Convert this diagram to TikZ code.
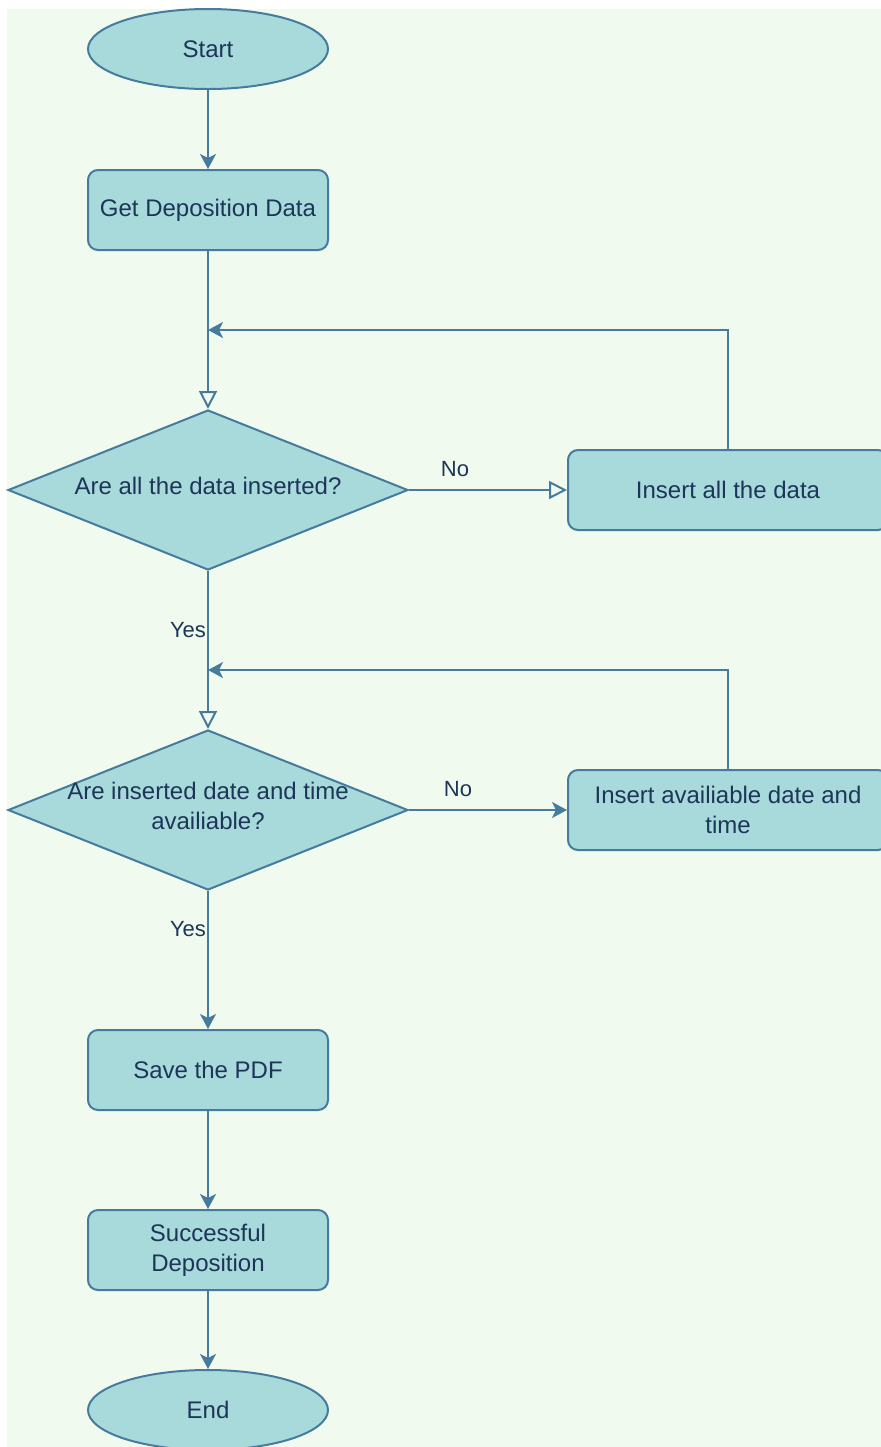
\documentclass[tikz,border=0pt]{standalone}
\usepackage{fontspec}
\setmainfont{Liberation Sans}
\usetikzlibrary{shapes.geometric,arrows.meta}
\definecolor{bgc}{HTML}{F1FAEE}
\definecolor{fillc}{HTML}{A8DADC}
\definecolor{strokec}{HTML}{457B9D}
\definecolor{textc}{HTML}{1D3557}
\begin{document}
\begin{tikzpicture}[x=0.5pt,y=-0.5pt,
  base/.style={draw=strokec, fill=fillc, line width=1pt, text=textc,
    font=\fontsize{12}{15}\selectfont, inner sep=0pt, align=center},
  term/.style={base, ellipse, minimum width=120pt, minimum height=40pt},
  proc/.style={base, rectangle, rounded corners=5pt, minimum width=120pt, minimum height=40pt},
  wideproc/.style={proc, minimum width=160pt},
  dec/.style={base, diamond, minimum width=200pt, minimum height=80pt, aspect=2.5},
  dectext/.style={text=textc, font=\fontsize{12}{15}\selectfont, align=center, inner sep=0pt},
  lbl/.style={text=textc, font=\fontsize{11}{13}\selectfont, inner sep=0pt},
  conn/.style={draw=strokec, line width=1pt},
  arr/.style={conn, -{Stealth[length=7.5pt, width=8pt, inset=2pt]}},
  arro/.style={conn, -{Triangle[open, length=9pt, width=9pt, fill=bgc]}}
]
\useasboundingbox (0,0) rectangle (881,1447);
\fill[bgc] (7,9) rectangle (881,1447);

\node[term] (start) at (208,49) {Start};
\node[proc] (get) at (208,210) {Get Deposition Data};
\node[dec] (d1) at (208,490) {};
\node[dectext] (t1) at (208,486) {Are all the data inserted?};
\node[wideproc] (ins1) at (728,490) {Insert all the data};
\node[dec] (d2) at (208,810) {};
\node[dectext] (t2) at (208,806) {Are inserted date and time\\availiable?};
\node[wideproc] (ins2) at (728,810) {Insert availiable date and\\time};
\node[proc] (save) at (208,1070) {Save the PDF};
\node[proc] (succ) at (208,1250) {Successful\\Deposition};
\node[term] (end) at (208,1410) {End};

\coordinate (j1) at (208,330);
\coordinate (j2) at (208,670);

\draw[arr] (start) -- (get);
\draw[arro] (get) -- (d1);
\draw[arro] (d1) -- (ins1);
\node[lbl] (no1) at (455,469) {No};
\draw[arr] (ins1.north) |- (j1);
\draw[arro] (d1) -- (d2);
\node[lbl] (yes1) at (188,630) {Yes};
\draw[arr] (ins2.north) |- (j2);
\draw[arr] (d2) -- (ins2);
\node[lbl] (no2) at (458,789) {No};
\draw[arr] (d2) -- (save);
\node[lbl] (yes2) at (188,929) {Yes};
\draw[arr] (save) -- (succ);
\draw[arr] (succ) -- (end);
\end{tikzpicture}
\end{document}
